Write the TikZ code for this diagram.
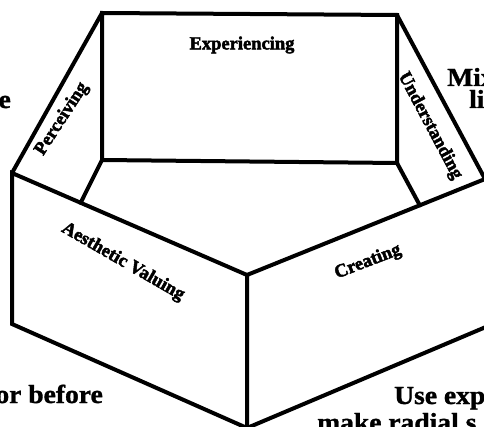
\documentclass[tikz,border=0pt]{standalone}
\usepackage{fontspec}
\setmainfont{Liberation Serif}
\newfontfamily\labfont[FakeBold=2.5]{Liberation Serif Bold}
\newfontfamily\bigfont[FakeBold=1.2, FakeStretch=1.06]{Liberation Serif Bold}
\begin{document}
\begin{tikzpicture}[x=1pt,y=-1pt,
  edge/.style={line width=4pt, line join=miter, line cap=round},
  lab/.style={font=\labfont\fontsize{18.5}{19}\selectfont, inner sep=0pt},
  big/.style={font=\bigfont\fontsize{26}{26}\selectfont, inner sep=0pt}]
\useasboundingbox (0,0) rectangle (484,427);
\clip (0,0) rectangle (484,427);
% vertices
\coordinate (A) at (102,13);
\coordinate (B) at (397,15);
\coordinate (C) at (397,163);
\coordinate (D) at (102,160);
\coordinate (E) at (12,173);
\coordinate (F) at (12,324);
\coordinate (G) at (247,275);
\coordinate (H) at (247,428);
\coordinate (J) at (485,179);
\coordinate (K) at (500,321);
\coordinate (Ld) at (82,200);
\coordinate (Md) at (418,202);
\coordinate (L) at (intersection of D--Ld and E--G);
\coordinate (M) at (intersection of C--Md and G--J);
% shapes
\draw[edge] (A) -- (B) -- (C) -- (D) -- cycle;
\draw[edge] (A) -- (E);
\draw[edge] (B) -- (J);
\draw[edge] (D) -- (L);
\draw[edge] (C) -- (M);
\draw[edge] (E) -- (F) -- (H) -- (G) -- cycle;
\draw[edge] (G) -- (J);
\draw[edge] (H) -- (K);
% panel labels
\node[lab] (exp) at (242,45) {Experiencing};
\node[lab, rotate=57] (per) at (62,119) {Perceiving};
\node[lab, rotate=-62] (und) at (430,126) {Understanding};
\node[lab, rotate=-30] (aes) at (123,262) {Aesthetic Valuing};
\node[lab, rotate=21] (cre) at (368,262) {Creating};
% cropped outer texts
\node[big, anchor=base east] (t1) at (11,108) {e};
\node[big, anchor=base west] (t2) at (447,86) {Mix};
\node[big, anchor=base west] (t3) at (469,108) {lip};
\node[big, anchor=base east] (t4) at (103,403) {or before};
\node[big, anchor=base west] (t5) at (394,404) {Use exp};
\node[big, anchor=base west] (t6) at (317,431) {make radial s};
\end{tikzpicture}
\end{document}
